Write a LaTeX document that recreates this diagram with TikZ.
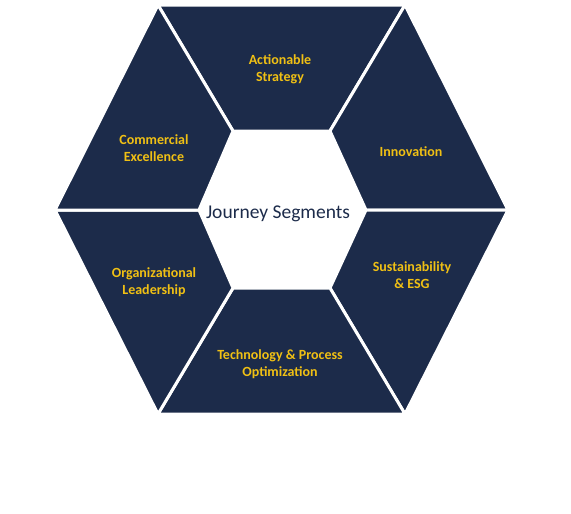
\documentclass[tikz,border=0pt]{standalone}
\usepackage{fontspec}
\setmainfont{Carlito}
\usepackage{xcolor}
\usetikzlibrary{calc,positioning}
\definecolor{navy}{RGB}{28,43,74}
\definecolor{gold}{RGB}{240,192,20}

\begin{document}
\begin{tikzpicture}[x=1pt,y=-1pt]
		\tikzstyle{segment}=[fill=navy, draw=white, line width=3pt, line join=miter]
		\tikzstyle{seglabel}=[font=\fontsize{14}{17}\selectfont\bfseries, text=gold, align=center]
		\useasboundingbox (0,0) rectangle (571,514);
		% outer corners
		\coordinate (o1) at (158,5);
		\coordinate (o2) at (405,5);
		\coordinate (o3) at (508,210);
		\coordinate (o4) at (405,414);
		\coordinate (o5) at (158,414);
		\coordinate (o6) at (55,210);
		% inner corners
		\coordinate (i1) at (233,131);
		\coordinate (i2) at (330,131);
		\coordinate (i3) at (366,210);
		\coordinate (i4) at (330,288);
		\coordinate (i5) at (233,288);
		\coordinate (i6) at (199,210);
		\draw [segment] (o1) -- (o2) -- (i2) -- (i1) -- cycle;
		\draw [segment] (o2) -- (o3) -- (i3) -- (i2) -- cycle;
		\draw [segment] (o3) -- (o4) -- (i4) -- (i3) -- cycle;
		\draw [segment] (o4) -- (o5) -- (i5) -- (i4) -- cycle;
		\draw [segment] (o5) -- (o6) -- (i6) -- (i5) -- cycle;
		\draw [segment] (o6) -- (o1) -- (i1) -- (i6) -- cycle;
		\node [seglabel] (strategy) at (280,69) {Actionable\\Strategy};
		\node [seglabel] (innovation) at (411,152) {Innovation};
		\node [seglabel] (esg) at (412,275) {Sustainability\\\& ESG};
		\node [seglabel] (techproc) at (280,364) {Technology \& Process\\Optimization};
		\node [seglabel] (orglead) at (154,282) {Organizational\\Leadership};
		\node [seglabel] (commercial) at (154,148) {Commercial\\Excellence};
		\node [font=\fontsize{19.5}{22}\selectfont, text=navy] (journey) at (278,214) {Journey Segments};
	\end{tikzpicture}
\end{document}
